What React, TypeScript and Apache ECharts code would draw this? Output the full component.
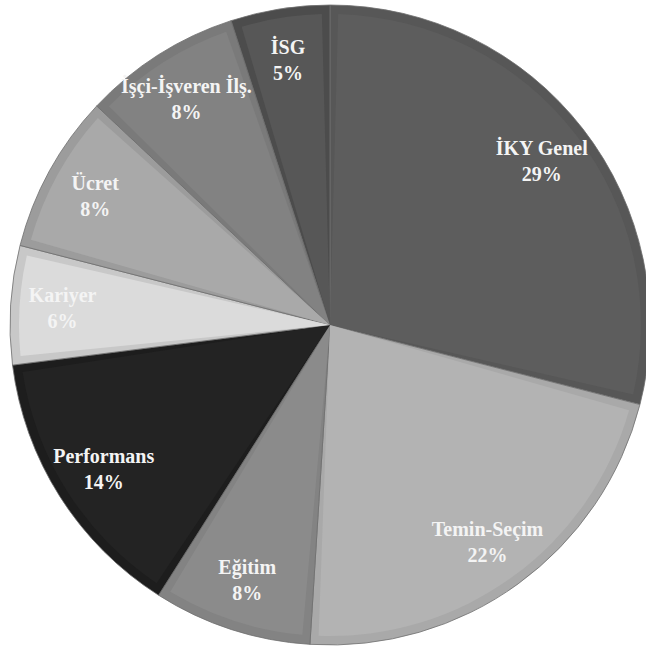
import React, { useEffect, useRef } from "react";
import * as echarts from "echarts";

const categories = ["İKY Genel", "Temin-Seçim", "Eğitim", "Performans", "Kariyer", "Ücret", "İşçi-İşveren İlş.", "İSG"];
const values = [29, 22, 8, 14, 6, 8, 8, 5];
const fillColors = ["#5d5d5d", "#b3b3b3", "#8b8b8b", "#232323", "#dbdbdb", "#a9a9a9", "#828282", "#575757"];
const shadeColors = ["#575757", "#a9a9a9", "#838383", "#1d1d1d", "#c8c8c8", "#9c9c9c", "#7a7a7a", "#4c4c4c"];

export default function App() {
  const ref = useRef<HTMLDivElement>(null);
  useEffect(() => {
    if (!ref.current) return;
    const chart = echarts.init(ref.current, null, { renderer: "svg" });
    const center = [330, 325];
    const R = 320;
    chart.setOption({
      animation: false,
      backgroundColor: "#ffffff",
      series: [
        {
          type: "pie",
          center,
          radius: [0, R],
          startAngle: 90,
          clockwise: true,
          silent: true,
          label: { show: false },
          labelLine: { show: false },
          itemStyle: { borderColor: "#6e6e6e", borderWidth: 0.8 },
          data: categories.map((c, i) => ({ name: c, value: values[i], itemStyle: { color: shadeColors[i] } })),
          z: 1,
        },
        {
          type: "pie",
          center,
          radius: [0, R - 9],
          startAngle: 90,
          clockwise: true,
          padAngle: 3,
          silent: true,
          label: { show: false },
          labelLine: { show: false },
          data: categories.map((c, i) => ({ name: c, value: values[i], itemStyle: { color: fillColors[i] } })),
          z: 2,
        },
        {
          type: "pie",
          center,
          radius: [210, R],
          startAngle: 90,
          clockwise: true,
          silent: true,
          itemStyle: { color: "transparent" },
          labelLine: { show: false },
          label: {
            show: true,
            position: "inside",
            formatter: (p: any) => `${p.name}\n${p.value}%`,
            fontFamily: "'Liberation Serif', 'Times New Roman', serif",
            fontWeight: "bold",
            fontSize: 20,
            lineHeight: 26,
            color: "#f4f4f4",
            align: "center",
          },
          data: categories.map((c, i) => ({ name: c, value: values[i] })),
          z: 3,
        },
      ],
    });
    return () => chart.dispose();
  }, []);
  return <div ref={ref} style={{ position: "fixed", left: 0, top: 0, width: 646, height: 648 }} />;
}
